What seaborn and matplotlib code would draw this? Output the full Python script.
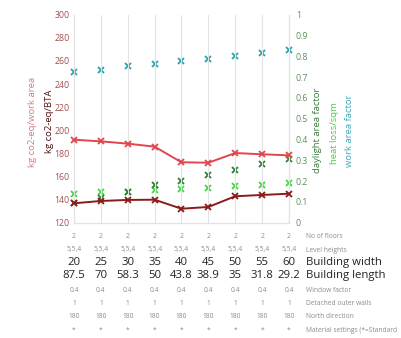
import seaborn as sns
import matplotlib.pyplot as plt
import matplotlib.transforms as mtransforms
import pandas as pd

# ---- data ----
widths = [20, 25, 30, 35, 40, 45, 50, 55, 60]
lengths = ["87.5", "70", "58.3", "50", "43.8", "38.9", "35", "31.8", "29.2"]
co2_work_area = [191.8, 190.4, 188.4, 185.8, 172.3, 171.9, 180.3, 179.2, 178.3]
co2_bta = [136.8, 138.8, 139.7, 139.9, 132.1, 133.6, 142.9, 144.0, 145.1]
work_area_factor = [0.724, 0.736, 0.752, 0.763, 0.776, 0.789, 0.803, 0.816, 0.828]
heat_loss = [0.136, 0.147, 0.149, 0.156, 0.162, 0.169, 0.175, 0.182, 0.190]
daylight_factor = [0.095, 0.118, 0.150, 0.180, 0.202, 0.230, 0.254, 0.280, 0.307]

table_rows = [
    ("No of floors", ["2"] * 9, False),
    ("Level heights", ["5,5,4"] * 9, False),
    ("Building width", [str(w) for w in widths], True),
    ("Building length", lengths, True),
    ("Window factor", ["0.4"] * 9, False),
    ("Detached outer walls", ["1"] * 9, False),
    ("North direction", ["180"] * 9, False),
    ("Material settings (*=Standard", ["*"] * 9, False),
]

c_red = "#e0474c"
c_dred = "#8b1a1a"
c_cyan = "#2a9fa8"
c_lgreen = "#44d444"
c_dgreen = "#2e7d32"

df = pd.DataFrame({
    "i": range(len(widths)),
    "work": co2_work_area,
    "bta": co2_bta,
    "waf": work_area_factor,
    "heat": heat_loss,
    "day": daylight_factor,
})

sns.set_theme(style="white")
plt.rcParams['font.family'] = ['Open Sans', 'DejaVu Sans']

fig = plt.figure(figsize=(4.02, 3.38), dpi=100)
ax = fig.add_axes([74 / 402, 1 - 222.7 / 338, 215 / 402, 208 / 338])
ax2 = ax.twinx()

# left axis: co2 lines
for col, c in (("work", c_red), ("bta", c_dred)):
    sns.lineplot(data=df, x="i", y=col, ax=ax, color=c, marker="x", lw=1.4,
                 markersize=5, markeredgewidth=1.3, markeredgecolor=c,
                 clip_on=False, zorder=4)

# right axis: factors (markers only)
for col, c in (("waf", c_cyan), ("heat", c_lgreen), ("day", c_dgreen)):
    sns.lineplot(data=df, x="i", y=col, ax=ax2, color=c, marker="x", linestyle="",
                 markersize=5, markeredgewidth=1.3, markeredgecolor=c,
                 clip_on=False, zorder=3)

ax.set_xlim(0, 8)
ax.set_ylim(120, 300)
ax.set_yticks(range(120, 301, 20))
ax2.set_ylim(0, 1)
ax2.set_yticks([i / 10 for i in range(11)])
ax2.set_yticklabels(["0", "0.1", "0.2", "0.3", "0.4", "0.5", "0.6", "0.7", "0.8", "0.9", "1"])
ax.set_xticks(range(9))
ax.set_xticklabels([])
ax.xaxis.grid(True, color="#e3e3e3", lw=0.8)
ax.set_zorder(ax2.get_zorder() + 1)
ax.patch.set_visible(False)

for a in (ax, ax2):
    a.set_xlabel("")
    a.set_ylabel("")
    for s in a.spines.values():
        s.set_color("#e3e3e3")
        s.set_linewidth(0.8)
    a.spines["top"].set_visible(False)

ax.tick_params(axis="y", labelsize=6.3, colors="#a05050", pad=3, length=0)
ax2.tick_params(axis="y", labelsize=6.3, colors="#5f8f5f", pad=5, length=0)
ax.tick_params(axis="x", length=0)

# axis titles
fig.text(33 / 402, 1 - 122 / 338, "kg co2-eq/work area", rotation=90, color="#d87a7e",
         fontsize=6.8, ha="center", va="center")
fig.text(50 / 402, 1 - 121 / 338, "kg co2-eq/BTA", rotation=90, color="#4a1010",
         fontsize=6.8, ha="center", va="center")
fig.text(318 / 402, 1 - 130 / 338, "daylight area factor", rotation=90, color="#3a7a3e",
         fontsize=6.8, ha="center", va="center")
fig.text(335 / 402, 1 - 133 / 338, "heat loss/sqm", rotation=90, color="#50c850",
         fontsize=6.8, ha="center", va="center")
fig.text(350 / 402, 1 - 131 / 338, "work area factor", rotation=90, color="#40a8b8",
         fontsize=6.8, ha="center", va="center")

# parameter table under the chart
trans = mtransforms.blended_transform_factory(ax.transData, fig.transFigure)
row_y = [236.7, 250, 262.5, 275.7, 290, 303.3, 316.7, 330]
for (name, vals, big), y in zip(table_rows, row_y):
    fy = 1 - y / 338
    fs = 8.2 if big else 4.8
    col = "#222222" if big else "#8c8c8c"
    for i, v in enumerate(vals):
        ax.text(i, fy, v, transform=trans, ha="center", va="center",
                fontsize=fs, color=col, clip_on=False)
    fig.text(306 / 402, fy, name, ha="left", va="center", fontsize=fs, color=col)

fig.savefig("out.png", dpi=100)
